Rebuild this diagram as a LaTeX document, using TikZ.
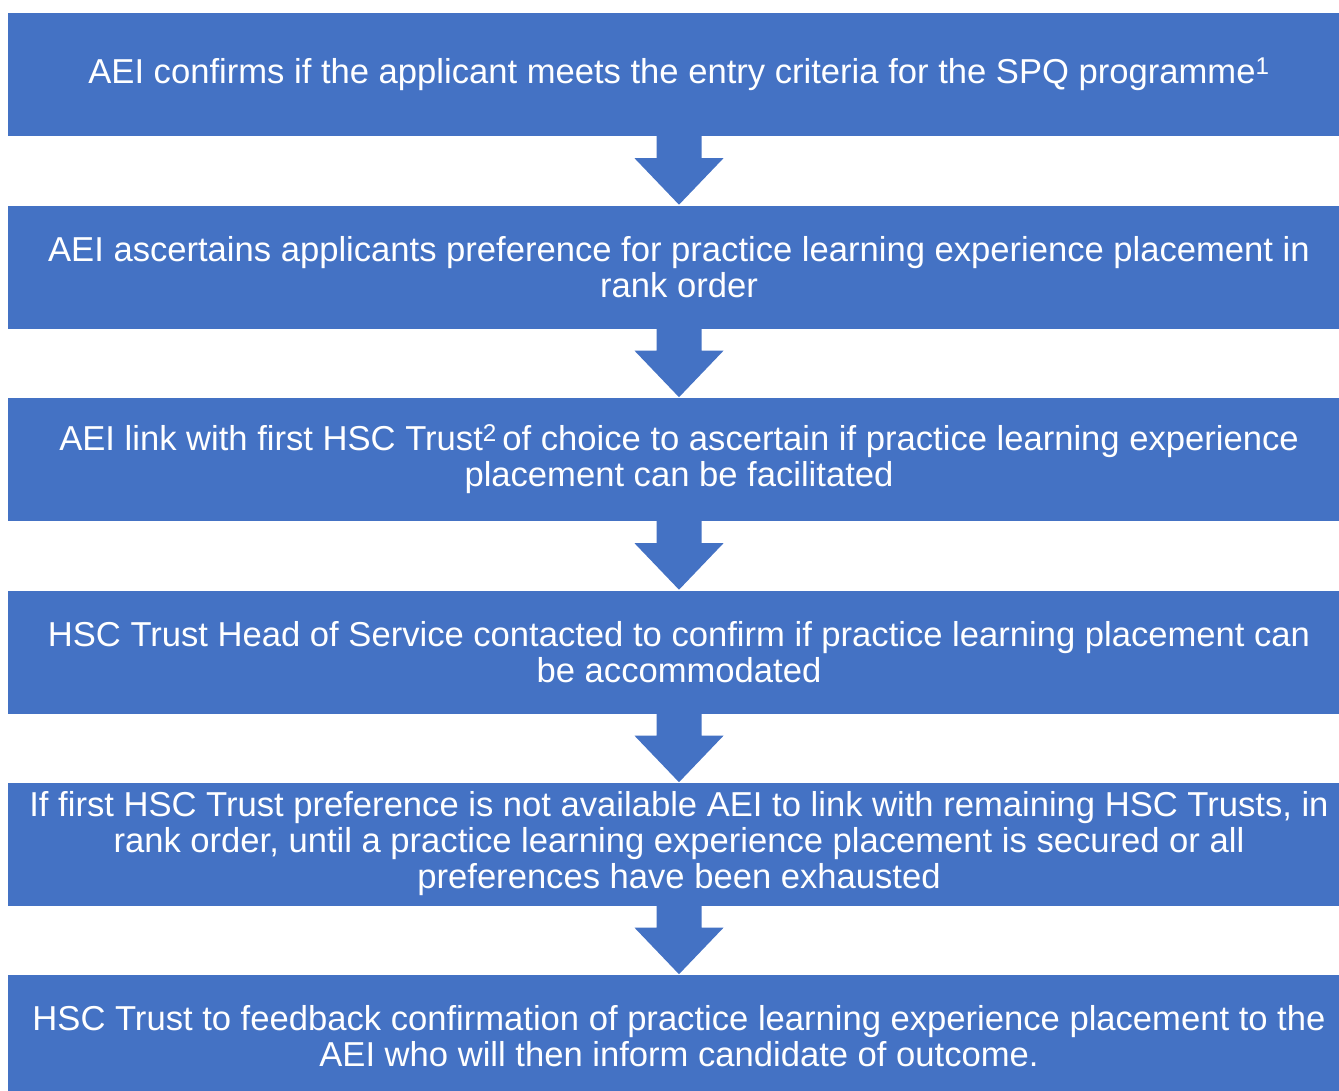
\documentclass[tikz,border=0pt]{standalone}
\usepackage{fontspec}
\setmainfont{Liberation Sans}
\definecolor{officeblue}{HTML}{4472C4}
\begin{document}
\begin{tikzpicture}[x=1pt,y=-1pt,
  stepbox/.style={fill=officeblue,draw=none,minimum width=1342pt,minimum height=123pt,
    inner sep=0pt,align=center,text=white,font=\fontsize{34.6}{36}\selectfont},
  flowarrow/.style={fill=officeblue,draw=none}]
\useasboundingbox (0,0) rectangle (1339,1090);
\clip (0,0) rectangle (1339,1090);
\node[stepbox] (b1) at (679,74.5) {AEI confirms if the applicant meets the entry criteria for the SPQ programme\textsuperscript{1}};
\node[stepbox] (b2) at (679,267) {AEI ascertains applicants preference for practice learning experience placement in\\rank order};
\node[stepbox] (b3) at (679,459.5) {AEI link with first HSC Trust\textsuperscript{2}\hspace{-4pt} of choice to ascertain if practice learning experience\\placement can be facilitated};
\node[stepbox] (b4) at (679,652) {HSC Trust Head of Service contacted to confirm if practice learning placement can\\be accommodated};
\node[stepbox] (b5) at (679,844) {If first HSC Trust preference is not available AEI to link with remaining HSC Trusts, in\\rank order, until a practice learning experience placement is secured or all\\preferences have been exhausted};
\node[stepbox] (b6) at (679,1036.5) {HSC Trust to feedback confirmation of practice learning experience placement to the\\AEI who will then inform candidate of outcome.};
\foreach \a in {b1,b2,b3,b4,b5}{
  \fill[flowarrow,shift={(\a.south)}] (-22.5,0) -- (22.5,0) -- (22.5,22) -- (44.5,22)
    -- (0,68.5) -- (-44.5,22) -- (-22.5,22) -- cycle;
}
\end{tikzpicture}
\end{document}
